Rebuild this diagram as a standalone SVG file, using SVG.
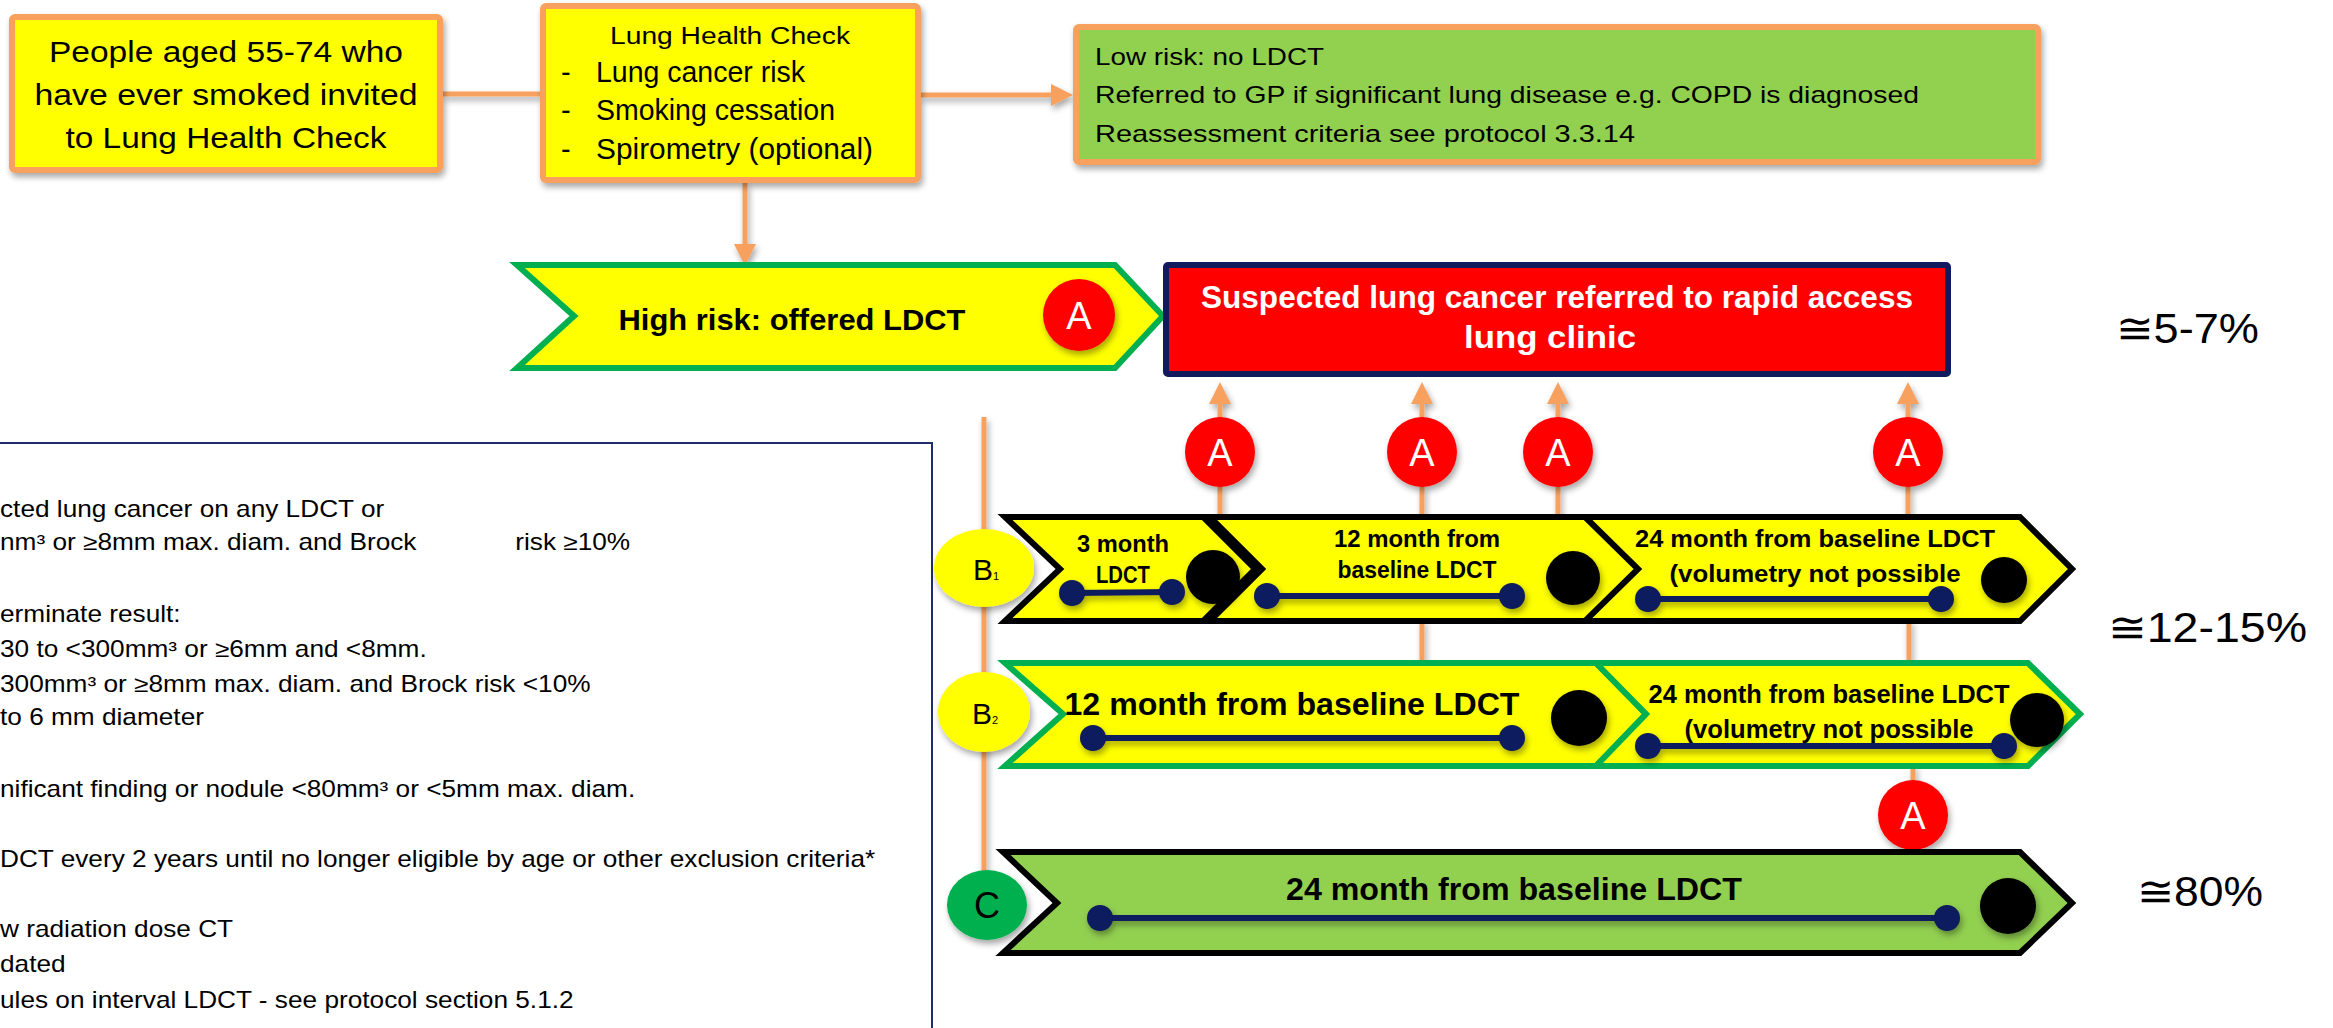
<svg xmlns="http://www.w3.org/2000/svg" width="2333" height="1028" viewBox="0 0 2333 1028">
<defs>
<style>
text{font-family:"Liberation Sans",Arial,sans-serif;fill:#000}
.or{fill:none;stroke:#F8A15E;stroke-width:5}
.box{fill:#FFFF00;stroke:#F8A15E;stroke-width:6}
.chk{fill:#FFFF00;stroke:#000;stroke-width:6}
.chg{fill:#FFFF00;stroke:#00B050;stroke-width:6}
.chc{fill:#92D050;stroke:#000;stroke-width:6}
.ac{fill:#FF0000}
.aT{fill:#fff;font-size:38px;text-anchor:middle}
.b{font-weight:bold;text-anchor:middle}
.dot{fill:#111A5E}
.bar{stroke:#111A5E;stroke-width:6}
.blk{fill:#000}
.pct{font-size:42px}
.leg{font-size:23px}
.mid{text-anchor:middle}
</style>
<filter id="sh" filterUnits="userSpaceOnUse" x="-50" y="-50" width="2433" height="1128">
<feDropShadow dx="2" dy="4" stdDeviation="3" flood-color="#000" flood-opacity="0.35"/>
</filter>
<marker id="ah" viewBox="0 0 10 10" refX="0" refY="5" markerWidth="22" markerHeight="22" markerUnits="userSpaceOnUse" orient="auto">
<path d="M0,0 L10,5 L0,10 z" fill="#F8A15E"/>
</marker>
</defs>

<g id="connectors" filter="url(#sh)">
<line class="or" x1="443" y1="94" x2="540" y2="94"/>
<line class="or" x1="921" y1="95" x2="1051" y2="95" marker-end="url(#ah)"/>
<line class="or" x1="745" y1="183" x2="745" y2="244" marker-end="url(#ah)"/>
<line class="or" x1="1220" y1="418" x2="1220" y2="404" marker-end="url(#ah)"/>
<line class="or" x1="1422" y1="418" x2="1422" y2="404" marker-end="url(#ah)"/>
<line class="or" x1="1558" y1="418" x2="1558" y2="404" marker-end="url(#ah)"/>
<line class="or" x1="1908" y1="418" x2="1908" y2="404" marker-end="url(#ah)"/>
<line class="or" x1="1220" y1="486" x2="1220" y2="518"/>
<line class="or" x1="1422" y1="486" x2="1422" y2="518"/>
<line class="or" x1="1558" y1="486" x2="1558" y2="518"/>
<line class="or" x1="1908" y1="486" x2="1908" y2="518"/>
<line class="or" x1="1422" y1="620" x2="1422" y2="664"/>
<line class="or" x1="1909" y1="620" x2="1909" y2="664"/>
<line class="or" x1="1913" y1="765" x2="1913" y2="781"/>
<line class="or" x1="984" y1="417" x2="984" y2="872"/>
</g>

<g id="legend">
<rect x="-10" y="443" width="942" height="600" fill="#fff" stroke="#1F2D6E" stroke-width="2"/>
<g transform="scale(1.14,1)" class="leg">
<text x="0" y="517">cted lung cancer on any LDCT or</text>
<text x="0" y="550">nm³ or ≥8mm max. diam. and Brock</text>
<text x="452" y="550">risk ≥10%</text>
<text x="0" y="622">erminate result:</text>
<text x="0" y="657">30 to &lt;300mm³ or ≥6mm and &lt;8mm.</text>
<text x="0" y="692">300mm³ or ≥8mm max. diam. and Brock risk &lt;10%</text>
<text x="0" y="725">to 6 mm diameter</text>
<text x="0" y="797">nificant finding or nodule &lt;80mm³ or &lt;5mm max. diam.</text>
<text x="0" y="867">DCT every 2 years until no longer eligible by age or other exclusion criteria*</text>
<text x="0" y="937">w radiation dose CT</text>
<text x="0" y="972">dated</text>
<text x="0" y="1008">ules on interval LDCT - see protocol section 5.1.2</text>
</g>
</g>

<g id="invite">
<rect class="box" x="12" y="17" width="428" height="153" rx="3" filter="url(#sh)"/>
<text class="mid" x="226" y="62" font-size="29" textLength="354" lengthAdjust="spacingAndGlyphs">People aged 55-74 who</text>
<text class="mid" x="226" y="105" font-size="29" textLength="383" lengthAdjust="spacingAndGlyphs">have ever smoked invited</text>
<text class="mid" x="226" y="148" font-size="29" textLength="321" lengthAdjust="spacingAndGlyphs">to Lung Health Check</text>
</g>

<g id="lhc">
<rect class="box" x="543" y="6" width="375" height="174" rx="3" filter="url(#sh)"/>
<text class="mid" x="730" y="44" font-size="23" textLength="240" lengthAdjust="spacingAndGlyphs">Lung Health Check</text>
<text x="561" y="82" font-size="29">-</text>
<text x="596" y="82" font-size="29" textLength="209" lengthAdjust="spacingAndGlyphs">Lung cancer risk</text>
<text x="561" y="120" font-size="29">-</text>
<text x="596" y="120" font-size="29" textLength="239" lengthAdjust="spacingAndGlyphs">Smoking cessation</text>
<text x="561" y="159" font-size="29">-</text>
<text x="596" y="159" font-size="29" textLength="277" lengthAdjust="spacingAndGlyphs">Spirometry (optional)</text>
</g>

<g id="lowrisk">
<rect x="1076" y="27" width="962" height="135" rx="3" fill="#92D050" stroke="#F8A15E" stroke-width="6" filter="url(#sh)"/>
<text x="1095" y="65" font-size="24" textLength="229" lengthAdjust="spacingAndGlyphs">Low risk: no LDCT</text>
<text x="1095" y="103" font-size="24" textLength="824" lengthAdjust="spacingAndGlyphs">Referred to GP if significant lung disease e.g. COPD is diagnosed</text>
<text x="1095" y="142" font-size="24" textLength="540" lengthAdjust="spacingAndGlyphs">Reassessment criteria see protocol 3.3.14</text>
</g>

<g id="highrisk">
<polygon class="chg" stroke-width="5" points="517,265 1115,265 1163,316 1115,368 517,368 574,316"/>
<text class="b" x="792" y="330" font-size="30" textLength="347" lengthAdjust="spacingAndGlyphs">High risk: offered LDCT</text>
<circle class="ac" cx="1079" cy="315" r="36" filter="url(#sh)"/>
<text class="aT" x="1079" y="329">A</text>
</g>

<g id="rapid">
<rect x="1166" y="265" width="782" height="109" rx="2" fill="#FF0000" stroke="#121A5E" stroke-width="6"/>
<text class="b" x="1557" y="308" font-size="32" style="fill:#fff" textLength="712" lengthAdjust="spacingAndGlyphs">Suspected lung cancer referred to rapid access</text>
<text class="b" x="1550" y="348" font-size="32" style="fill:#fff" textLength="172" lengthAdjust="spacingAndGlyphs">lung clinic</text>
</g>

<g id="a-row">
<circle class="ac" cx="1220" cy="452" r="35" filter="url(#sh)"/>
<text class="aT" x="1220" y="466">A</text>
<circle class="ac" cx="1422" cy="452" r="35" filter="url(#sh)"/>
<text class="aT" x="1422" y="466">A</text>
<circle class="ac" cx="1558" cy="452" r="35" filter="url(#sh)"/>
<text class="aT" x="1558" y="466">A</text>
<circle class="ac" cx="1908" cy="452" r="35" filter="url(#sh)"/>
<text class="aT" x="1908" y="466">A</text>
</g>

<g id="b1">
<ellipse cx="984" cy="568" rx="50" ry="39" fill="#FFFF00" filter="url(#sh)"/>
<text x="973" y="580" font-size="30">B<tspan font-size="11">1</tspan></text>
<polygon class="chk" points="1005,517 1203,517 1255,569 1203,621 1005,621 1060,569"/>
<polygon class="chk" points="1210,517 1590,517 1642,569 1590,621 1210,621 1262,569"/>
<polygon class="chk" points="1585,517 2020,517 2072,569 2020,621 1585,621 1638,569"/>
<text class="b" x="1123" y="552" font-size="23" textLength="92" lengthAdjust="spacingAndGlyphs">3 month</text>
<text class="b" x="1123" y="583" font-size="23" textLength="54" lengthAdjust="spacingAndGlyphs">LDCT</text>
<text class="b" x="1417" y="547" font-size="24" textLength="166" lengthAdjust="spacingAndGlyphs">12 month from</text>
<text class="b" x="1417" y="578" font-size="24" textLength="159" lengthAdjust="spacingAndGlyphs">baseline  LDCT</text>
<text class="b" x="1815" y="547" font-size="24" textLength="360" lengthAdjust="spacingAndGlyphs">24 month from baseline LDCT</text>
<text class="b" x="1815" y="582" font-size="24" textLength="291" lengthAdjust="spacingAndGlyphs">(volumetry not possible</text>
<g filter="url(#sh)">
<line class="bar" x1="1072" y1="593" x2="1172" y2="592"/>
<circle class="dot" cx="1072" cy="593" r="13"/>
<circle class="dot" cx="1172" cy="592" r="13"/>
<line class="bar" x1="1267" y1="596" x2="1512" y2="596"/>
<circle class="dot" cx="1267" cy="596" r="13"/>
<circle class="dot" cx="1512" cy="596" r="13"/>
<line class="bar" x1="1648" y1="599" x2="1941" y2="599"/>
<circle class="dot" cx="1648" cy="599" r="13"/>
<circle class="dot" cx="1941" cy="599" r="13"/>
<circle class="blk" cx="1213" cy="577" r="27"/>
<circle class="blk" cx="1573" cy="578" r="27"/>
<circle class="blk" cx="2004" cy="580" r="23"/>
</g>
</g>

<g id="b2">
<ellipse cx="984" cy="712" rx="46" ry="40" fill="#FFFF00" filter="url(#sh)"/>
<text x="972" y="724" font-size="30">B<tspan font-size="11">2</tspan></text>
<polygon class="chg" points="1005,663 1596,663 1646,714 1596,766 1005,766 1063,714"/>
<polygon class="chg" points="1596,663 2028,663 2080,714 2028,766 1596,766 1646,714"/>
<text class="b" x="1292" y="715" font-size="31" textLength="455" lengthAdjust="spacingAndGlyphs">12 month from baseline LDCT</text>
<text class="b" x="1829" y="703" font-size="25" textLength="361" lengthAdjust="spacingAndGlyphs">24 month from baseline LDCT</text>
<text class="b" x="1829" y="738" font-size="25" textLength="289" lengthAdjust="spacingAndGlyphs">(volumetry not possible</text>
<g filter="url(#sh)">
<line class="bar" x1="1093" y1="738" x2="1512" y2="738"/>
<circle class="dot" cx="1093" cy="738" r="13"/>
<circle class="dot" cx="1512" cy="738" r="13"/>
<line class="bar" x1="1648" y1="746" x2="2004" y2="746"/>
<circle class="dot" cx="1648" cy="746" r="13"/>
<circle class="dot" cx="2004" cy="746" r="13"/>
<circle class="blk" cx="1579" cy="718" r="28"/>
<circle class="blk" cx="2037" cy="720" r="27"/>
</g>
</g>

<g id="a-b2">
<circle class="ac" cx="1913" cy="815" r="35" filter="url(#sh)"/>
<text class="aT" x="1913" y="829">A</text>
</g>

<g id="c">
<ellipse cx="987" cy="905" rx="40" ry="35" fill="#00B050" filter="url(#sh)"/>
<text class="mid" x="987" y="918" font-size="36">C</text>
<polygon class="chc" points="1003,852 2020,852 2072,903 2020,953 1003,953 1057,903"/>
<text class="b" x="1514" y="900" font-size="31" textLength="456" lengthAdjust="spacingAndGlyphs">24 month from baseline LDCT</text>
<g filter="url(#sh)">
<line class="bar" x1="1100" y1="918" x2="1947" y2="918"/>
<circle class="dot" cx="1100" cy="918" r="13"/>
<circle class="dot" cx="1947" cy="918" r="13"/>
<circle class="blk" cx="2008" cy="906" r="28"/>
</g>
</g>

<g id="percents">
<text class="pct" x="2116" y="343" textLength="143" lengthAdjust="spacingAndGlyphs">≅5-7%</text>
<text class="pct" x="2108" y="642" textLength="199" lengthAdjust="spacingAndGlyphs">≅12-15%</text>
<text class="pct" x="2137" y="906" textLength="126" lengthAdjust="spacingAndGlyphs">≅80%</text>
</g>
</svg>
